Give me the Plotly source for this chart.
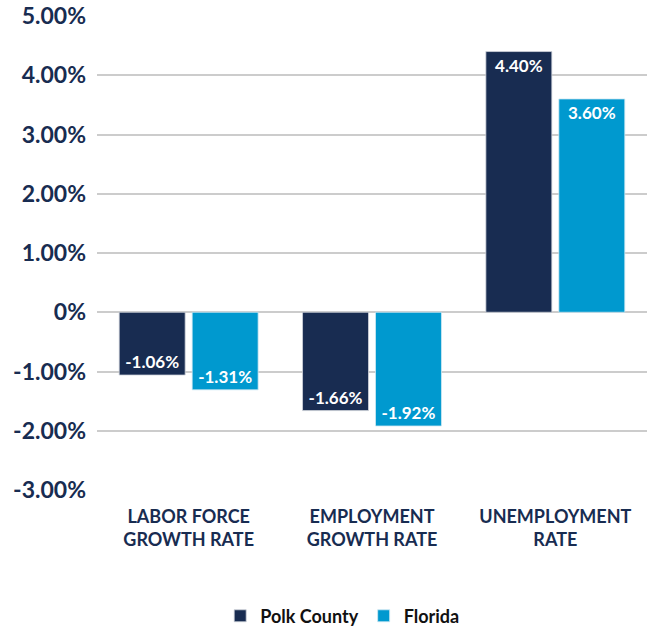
import plotly.graph_objects as go

categories = ["LABOR FORCE<br>GROWTH RATE", "EMPLOYMENT<br>GROWTH RATE", "UNEMPLOYMENT<br>RATE"]
polk_values = [-1.06, -1.66, 4.40]
florida_values = [-1.31, -1.92, 3.60]
tick_vals = [-3, -2, -1, 0, 1, 2, 3, 4, 5]
tick_text = ["-3.00%", "-2.00%", "-1.00%", "0%", "1.00%", "2.00%", "3.00%", "4.00%", "5.00%"]

NAVY = "#182c51"
BLUE = "#0099cf"
FONT = "Lato"

fig = go.Figure()
fig.add_trace(go.Bar(
    name="Polk County", x=categories, y=polk_values,
    marker=dict(color=NAVY, line=dict(color="#d0d4dc", width=0.8)),
    text=[f"{v:.2f}%" for v in polk_values],
    textposition="inside", insidetextanchor="end", textangle=0,
    insidetextfont=dict(color="white", size=17, family=FONT, weight="bold"),
))
fig.add_trace(go.Bar(
    name="Florida", x=categories, y=florida_values,
    marker=dict(color=BLUE, line=dict(color="#d0e8f2", width=0.8)),
    text=[f"{v:.2f}%" for v in florida_values],
    textposition="inside", insidetextanchor="end", textangle=0,
    insidetextfont=dict(color="white", size=17, family=FONT, weight="bold"),
))

fig.update_layout(
    width=647, height=635,
    margin=dict(l=97, r=0, t=16, b=139),
    paper_bgcolor="white", plot_bgcolor="white",
    barmode="group", bargap=0.204, bargroupgap=0.096,
    font=dict(family=FONT, color=NAVY),
    showlegend=True,
    legend=dict(orientation="h", x=0.224, xanchor="left", y=-0.266, yanchor="middle",
                font=dict(size=18, color="#111111", family=FONT, weight="bold"),
                itemwidth=30, traceorder="normal"),
    xaxis=dict(tickfont=dict(size=18, color=NAVY, family=FONT, weight="bold"),
               showline=False, showgrid=False, ticks="", ticklabelstandoff=14,
               automargin=False),
    yaxis=dict(range=[-3, 5], tickvals=tick_vals, ticktext=tick_text,
               tickfont=dict(size=23, color=NAVY, family=FONT, weight="bold"),
               showgrid=True, gridcolor="#cccccc", gridwidth=1.5,
               zeroline=True, zerolinecolor="#cccccc", zerolinewidth=1.5,
               showline=False, ticks="", ticklabelstandoff=10, automargin=False,
               ticklabeloverflow="allow"),
)

# remove the default 8px page margin so the figure fills the window exactly
fig.write_html("out.html", config={"displayModeBar": False},
               post_script="document.body.style.margin='0px';")
